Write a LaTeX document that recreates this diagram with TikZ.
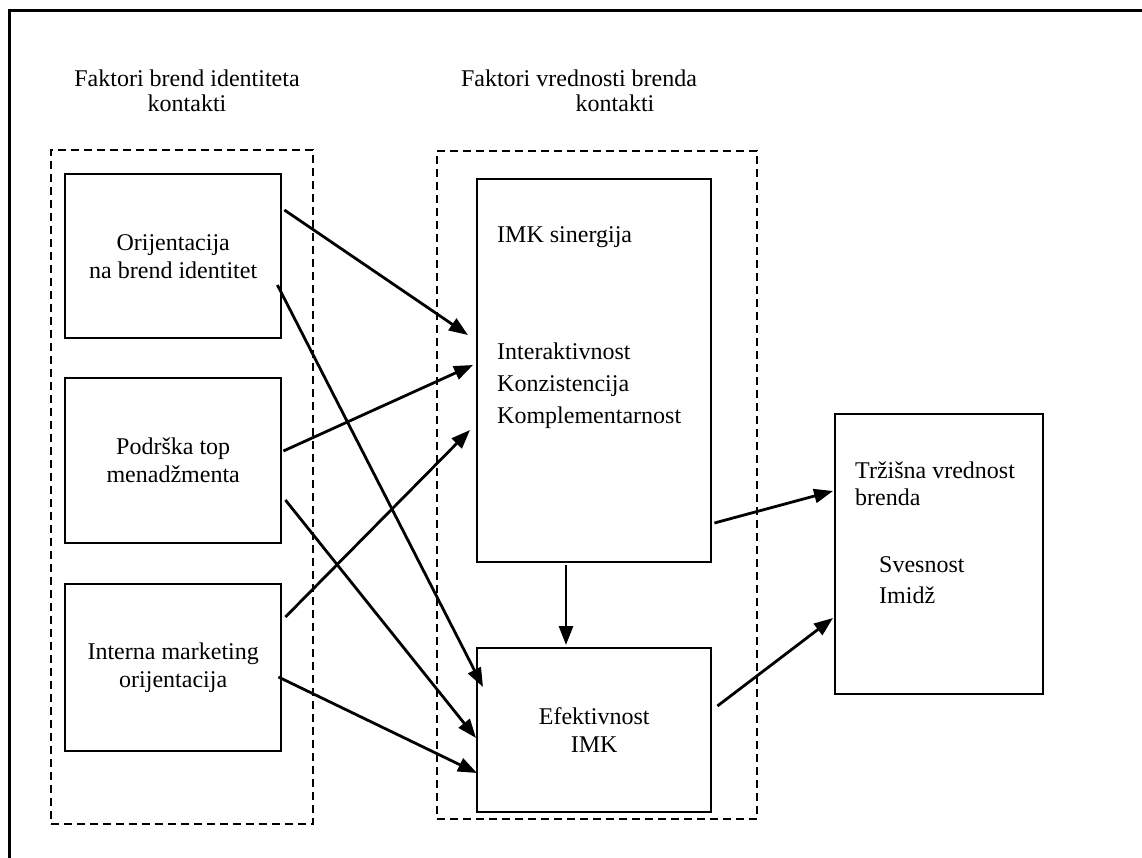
\documentclass[tikz,border=0pt]{standalone}
\usepackage{fontspec}
\setmainfont{Liberation Serif}
\usetikzlibrary{arrows.meta,calc}
\begin{document}
\begin{tikzpicture}[x=1pt,y=-1pt,
  txt/.style={font=\fontsize{24}{28}\selectfont, inner sep=0pt},
  box/.style={draw, line width=2.4pt, inner sep=0pt, anchor=north west,
    align=center, font=\fontsize{24}{28}\selectfont},
  grp/.style={draw, line width=1.9pt, dash pattern=on 8pt off 5pt},
  link/.style={line width=2.8pt, -{Triangle[length=19pt,width=14pt]}}]
\useasboundingbox (0,0) rectangle (1142,857);

% outer frame
\draw[line width=3pt] (9,870) |- (1150,10);

% dashed groups
\node[grp, inner sep=0pt, anchor=north west, minimum width=262pt, minimum height=674pt] (g1) at (50,149) {};
\node[grp, inner sep=0pt, anchor=north west, minimum width=320pt, minimum height=668pt] (g2) at (436,150) {};

% group headings
\node[txt, anchor=base] (h1a) at (187,86) {Faktori brend identiteta};
\node[txt, anchor=base] (h1b) at (187,111) {kontakti};
\node[txt, anchor=base] (h2a) at (579,86) {Faktori vrednosti brenda};
\node[txt, anchor=base] (h2b) at (615,111) {kontakti};

% left boxes
\node[box, minimum width=216pt, minimum height=164pt] (b1) at (64,173) {Orijentacija\\na brend identitet};
\node[box, minimum width=216pt, minimum height=165pt] (b2) at (64,377) {Podrška top\\menadžmenta};
\node[box, minimum width=216pt, minimum height=167pt] (b3) at (64,583) {Interna marketing\\orijentacija};

% middle boxes
\node[box, minimum width=234pt, minimum height=383pt] (syn) at (476,178) {};
\node[txt, anchor=base west] (s1) at (497,242) {IMK sinergija};
\node[txt, anchor=base west] (s2) at (497,359) {Interaktivnost};
\node[txt, anchor=base west] (s3) at (497,391) {Konzistencija};
\node[txt, anchor=base west] (s4) at (497,423) {Komplementarnost};

\node[box, minimum width=234pt, minimum height=164pt] (eff) at (476,647) {Efektivnost\\IMK};

% right box
\node[box, minimum width=208pt, minimum height=280pt] (trz) at (834,413) {};
\node[txt, anchor=base west] (r1) at (855,478) {Tržišna vrednost};
\node[txt, anchor=base west] (r2) at (855,505) {brenda};
\node[txt, anchor=base west] (r3) at (879,572) {Svesnost};
\node[txt, anchor=base west] (r4) at (879,603) {Imidž};

% connectors
\draw[link] ($(b1.north east)+(2,37)$)   -- ($(syn.north west)+(-8,157)$);
\draw[link] ($(b1.north east)+(-5,112)$) -- ($(eff.north west)+(7,40)$);
\draw[link] ($(b2.north east)+(1,74)$)   -- ($(syn.north west)+(-3,187)$);
\draw[link] ($(b2.north east)+(3,123)$)  -- ($(eff.north west)+(0,91)$);
\draw[link] ($(b3.north east)+(3,34)$)   -- ($(syn.north west)+(-6,252)$);
\draw[link] ($(b3.north east)+(-4,94)$)  -- ($(eff.north west)+(1,126)$);
\draw[link] ($(syn.south west)+(90,2)$)  -- ($(eff.north west)+(90,-2)$);
\draw[link] ($(syn.north east)+(2,345)$) -- ($(trz.north west)+(-1,78)$);
\draw[link] ($(eff.north east)+(5,59)$)  -- ($(trz.north west)+(-1,205)$);
\end{tikzpicture}
\end{document}
